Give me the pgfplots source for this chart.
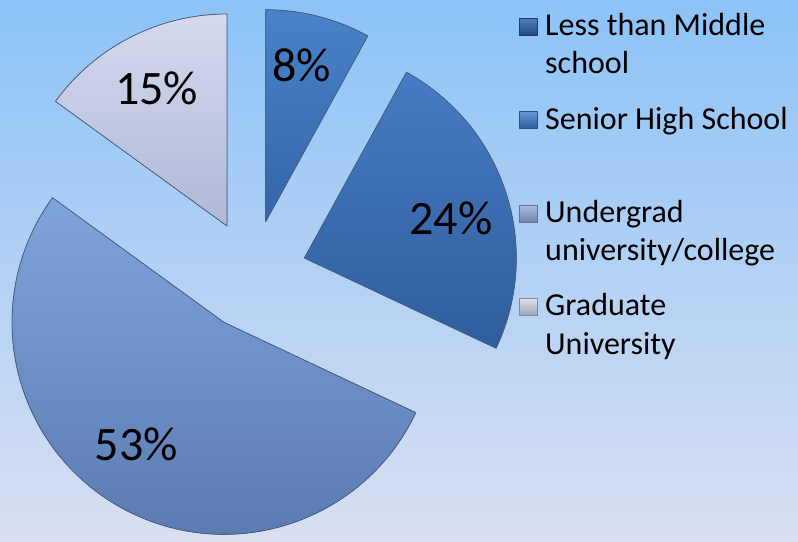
\documentclass[border=0pt]{standalone}
\usepackage{pgfplots}
\pgfplotsset{compat=1.18}
\usepackage{pgfplotstable}
\usepackage{fontspec}
\setmainfont{Carlito}

\definecolor{bgtop}{HTML}{8CC3F8}
\definecolor{bgbot}{HTML}{D8DFF1}
\definecolor{edge}{HTML}{4A5E7E}
\definecolor{aTop}{HTML}{4A82C8}\definecolor{aBot}{HTML}{2F5F9F}
\definecolor{bTop}{HTML}{467CC2}\definecolor{bBot}{HTML}{2F5E9E}
\definecolor{cTop}{HTML}{7EA4DC}\definecolor{cBot}{HTML}{5878AE}
\definecolor{dTop}{HTML}{D4D9EE}\definecolor{dBot}{HTML}{A6B1CF}
\definecolor{k1t}{HTML}{4E80C0}\definecolor{k1b}{HTML}{24497F}\definecolor{k1e}{HTML}{1F3E6C}
\definecolor{k2t}{HTML}{6C9AD6}\definecolor{k2b}{HTML}{2F5E9E}\definecolor{k2e}{HTML}{2A5088}
\definecolor{k3t}{HTML}{A8BDE0}\definecolor{k3b}{HTML}{6F84A8}\definecolor{k3e}{HTML}{5E7292}
\definecolor{k4t}{HTML}{E0E4F0}\definecolor{k4b}{HTML}{9AA3BA}\definecolor{k4e}{HTML}{80889C}

% education level shares, in percent, clockwise from 12 o'clock
\pgfplotstableread{
share
8
24
53
15
}\shares

\pgfplotstablegetelem{0}{share}\of\shares \let\va\pgfplotsretval
\pgfplotstablegetelem{1}{share}\of\shares \let\vb\pgfplotsretval
\pgfplotstablegetelem{2}{share}\of\shares \let\vc\pgfplotsretval
\pgfplotstablegetelem{3}{share}\of\shares \let\vd\pgfplotsretval

\pgfmathsetmacro\aA{90}
\pgfmathsetmacro\aB{\aA-3.6*\va}
\pgfmathsetmacro\aC{\aB-3.6*\vb}
\pgfmathsetmacro\aD{\aC-3.6*\vc}
\pgfmathsetmacro\aE{\aD-3.6*\vd}

% start angle, end angle, top colour, bottom colour, value, label angle shift, label distance
\newcommand\drawslice[7]{%
  \pgfmathsetmacro\mid{(#1+#2)/2}%
  \pgfmathsetmacro\lab{\mid+#6}%
  \fill[top color=#3, bottom color=#4, draw=edge, line width=0.8pt, line join=round]
    (axis cs:252,275) ++(\mid:55pt) -- ++(#1:212pt)
    arc[start angle=#1, end angle=#2, radius=212pt] -- cycle;
  \path (axis cs:252,275) ++(\mid:55pt) ++(\lab:#7pt)
    node[font=\fontsize{48}{56}\selectfont] {#5\%};
}

\begin{document}
\begin{tikzpicture}
\begin{axis}[
  scale only axis,
  width=798pt, height=541pt,
  xmin=0, xmax=798, ymin=0, ymax=541,
  y dir=reverse,
  hide axis,
  clip=false,
]
\pgfplotsextra{%
  \fill[top color=bgtop, bottom color=bgbot] (axis cs:0,0) rectangle (axis cs:798,541);
  \drawslice{\aA}{\aB}{aTop}{aBot}{\va}{1.4}{161}
  \drawslice{\aB}{\aC}{bTop}{bBot}{\vb}{-3}{152}
  \drawslice{\aC}{\aD}{cTop}{cBot}{\vc}{-5.2}{150}
  \drawslice{\aD}{\aE}{dTop}{dBot}{\vd}{0}{155}
  % legend
  \fill[top color=k1t, bottom color=k1b, draw=k1e, line width=0.4pt]
    (axis cs:519,18) rectangle (axis cs:537,35);
  \fill[top color=k2t, bottom color=k2b, draw=k2e, line width=0.4pt]
    (axis cs:519,111) rectangle (axis cs:537,128);
  \fill[top color=k3t, bottom color=k3b, draw=k3e, line width=0.4pt]
    (axis cs:519,205) rectangle (axis cs:537,222);
  \fill[top color=k4t, bottom color=k4b, draw=k4e, line width=0.4pt]
    (axis cs:519,298) rectangle (axis cs:537,315);
  \begin{scope}[every node/.style={anchor=base west, inner sep=0pt,
      font=\fontsize{32}{38}\selectfont}]
    \node at (axis cs:545,35) {Less than Middle};
    \node at (axis cs:545,73) {school};
    \node at (axis cs:545,129) {Senior High School};
    \node at (axis cs:545,222) {Undergrad};
    \node at (axis cs:545,260) {university/college};
    \node at (axis cs:545,315) {Graduate};
    \node at (axis cs:545,354) {University};
  \end{scope}
}
\end{axis}
\pgfresetboundingbox
\useasboundingbox (current axis.south west) rectangle (current axis.north east);
\end{tikzpicture}
\end{document}
